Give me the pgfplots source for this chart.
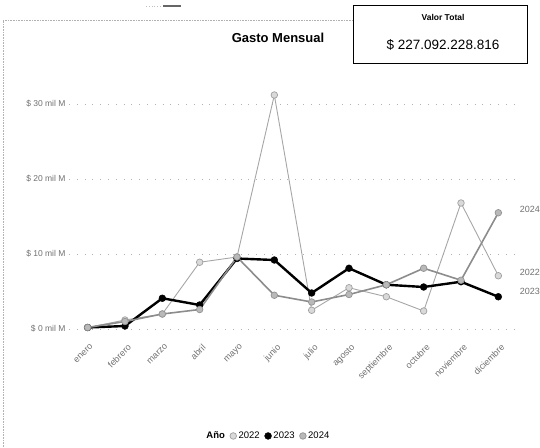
\documentclass[border=0pt]{standalone}
\usepackage{fontspec}
\setmainfont{Liberation Sans}
\usepackage{pgfplots}
\pgfplotsset{compat=1.18}

\definecolor{lineA}{HTML}{A6A6A6}
\definecolor{lineC}{HTML}{8C8C8C}
\definecolor{tick}{HTML}{707070}

\begin{document}
\begin{tikzpicture}[x=1pt,y=1pt]
\useasboundingbox (0,0) rectangle (540,447);
% outer dotted frame and small mark
\draw[gray!60, densely dotted, line width=0.6pt] (3,0) -- (3,427) -- (353,427);
\draw[gray!50, dotted, line width=0.8pt] (146,441) -- (162,441);
\draw[gray!80!black, line width=2.5pt] (163,441) -- (181,441);
% total box
\draw[black, line width=0.8pt] (353,384) rectangle (527,442);
\node[font=\bfseries\fontsize{8.5}{10}\selectfont] at (443,430) {Valor Total};
\node[font=\fontsize{13.5}{16}\selectfont] at (443,402) {\$ 227.092.228.816};
\node[font=\bfseries\fontsize{13}{15}\selectfont] at (278,409) {Gasto Mensual};

\begin{axis}[
    at={(69pt,110.5pt)}, anchor=south west,
    scale only axis, width=448pt, height=255pt,
    xmin=-0.5, xmax=11.5, ymin=-1, ymax=33,
    axis line style={draw=none}, major tick length=0pt,
    xtick={0,...,11},
    xticklabels={enero,febrero,marzo,abril,mayo,junio,julio,agosto,septiembre,octubre,noviembre,diciembre},
    ytick={0,10,20,30},
    yticklabels={\$ 0 mil M,\$ 10 mil M,\$ 20 mil M,\$ 30 mil M},
    ymajorgrids,
    grid style={gray!60, line width=0.7pt, dash pattern=on 0.8pt off 7pt},
    x tick label style={rotate=45, anchor=north east, font=\fontsize{9}{10}\selectfont, text=tick, yshift=-3pt},
    y tick label style={font=\fontsize{8.5}{10}\selectfont, text=tick},
    clip=false,
    legend style={at={(0.444,-0.39)}, anchor=center, draw=none, fill=none,
        legend columns=-1, font=\fontsize{9.5}{11}\selectfont,
        /tikz/every even column/.append style={column sep=3pt}},
    legend image code/.code={\draw[#1] plot[only marks] coordinates {(0.12cm,0cm)};},
]
\addlegendimage{empty legend}
\addlegendentry{\textbf{Año}}

\addplot[lineA, line width=0.9pt, mark=*, mark size=3.3pt,
    mark options={fill=gray!30, draw=gray!75, line width=0.7pt}] coordinates {
    (0,0.2) (1,1.2) (2,2.0) (3,8.9) (4,9.6) (5,31.2)
    (6,2.5) (7,5.5) (8,4.3) (9,2.4) (10,16.8) (11,7.1)};
\addlegendentry{2022}

\addplot[black, line width=2.4pt, mark=*, mark size=3.4pt,
    mark options={fill=black, draw=black, line width=0.5pt}] coordinates {
    (0,0.2) (1,0.4) (2,4.1) (3,3.2) (4,9.4) (5,9.2)
    (6,4.8) (7,8.1) (8,5.9) (9,5.6) (10,6.3) (11,4.3)};
\addlegendentry{2023}

\addplot[lineC, line width=1.6pt, mark=*, mark size=3.3pt,
    mark options={fill=gray!55, draw=gray!85, line width=0.7pt}] coordinates {
    (0,0.2) (1,1.0) (2,2.0) (3,2.6) (4,9.6) (5,4.5)
    (6,3.6) (7,4.6) (8,5.9) (9,8.1) (10,6.5) (11,15.5)};
\addlegendentry{2024}

\node[anchor=west, font=\fontsize{9}{10}\selectfont, text=tick] at (axis cs:11,15.9) [xshift=18pt] {2024};
\node[anchor=west, font=\fontsize{9}{10}\selectfont, text=tick] at (axis cs:11,7.5) [xshift=18pt] {2022};
\node[anchor=west, font=\fontsize{9}{10}\selectfont, text=tick] at (axis cs:11,5.0) [xshift=18pt] {2023};
\end{axis}
\end{tikzpicture}
\end{document}
